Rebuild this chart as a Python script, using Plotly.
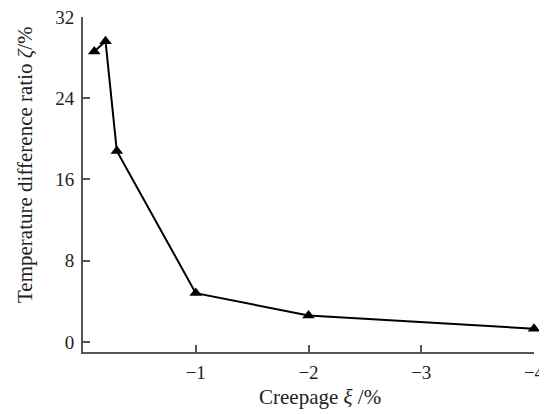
import plotly.graph_objects as go

creepage = [-0.10, -0.20, -0.30, -1.0, -2.0, -4.0]
temp_diff_ratio = [28.6, 29.6, 18.8, 4.8, 2.6, 1.3]
x_ticks = [-1, -2, -3, -4]
y_ticks = [0, 8, 16, 24, 32]

FONT = "Liberation Serif"
AX = "#555555"
FS = 21
TFS = 19

fig = go.Figure()
fig.add_trace(go.Scatter(
    x=creepage, y=temp_diff_ratio, mode="lines+markers",
    line=dict(color="black", width=2),
    marker=dict(symbol="triangle-up", size=11, color="black"),
    cliponaxis=False, showlegend=False,
))

# page has an 8px body margin; figure sized to fit the 547x414 window
fig.update_layout(
    width=539, height=406,
    margin=dict(l=75, r=13, t=9, b=62, autoexpand=False),
    plot_bgcolor="white", paper_bgcolor="white",
    font=dict(family=FONT, size=FS, color="#222222"),
    xaxis=dict(
        range=[0, -4], tickvals=x_ticks, ticktext=["\u22121", "\u22122", "\u22123", "\u22124"],
        showgrid=False, zeroline=False, showline=True, linecolor=AX, linewidth=2,
        ticks="inside", ticklen=7, tickcolor=AX, tickwidth=1.5,
        tickfont=dict(family=FONT, size=TFS), ticklabelstandoff=2, automargin=False,
        ticklabeloverflow="allow",
    ),
    yaxis=dict(
        range=[-1, 32], tickvals=y_ticks,
        showgrid=False, zeroline=False, showline=True, linecolor=AX, linewidth=2,
        ticks="inside", ticklen=7, tickcolor=AX, tickwidth=1.5,
        tickfont=dict(family=FONT, size=TFS), ticklabelstandoff=3, automargin=False,
        ticklabeloverflow="allow",
    ),
    annotations=[
        dict(text="Creepage <i>\u03be</i> /%", xref="paper", yref="paper",
             x=(320 - 83) / (534 - 83), y=-(397 - 352) / (352 - 17),
             showarrow=False, font=dict(family=FONT, size=FS), xanchor="center", yanchor="middle"),
        dict(text="Temperature difference ratio <i>\u03b6</i>/%", xref="paper", yref="paper",
             x=-(83 - 25) / (534 - 83), y=(352 - 165) / (352 - 17), textangle=-90,
             showarrow=False, font=dict(family=FONT, size=FS), xanchor="center", yanchor="middle"),
    ],
)

fig.write_html("out.html")
